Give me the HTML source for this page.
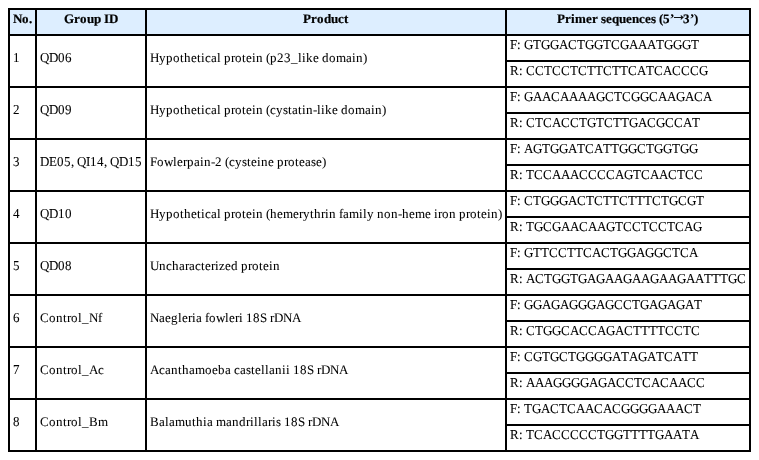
<!DOCTYPE html>
<html lang="en">
<head>
<meta charset="utf-8">
<title>Primer sequences</title>
<style>
html,body{margin:0;padding:0;background:#fff;}
body{width:759px;height:460px;overflow:hidden;position:relative;font-family:"Liberation Serif","Times New Roman",Times,serif;font-size:13px;line-height:15px;color:#000;}
table{position:absolute;left:8px;top:8px;border-collapse:collapse;border-spacing:0;table-layout:fixed;width:743px;}
th,td{border:2px solid #000;padding:0;margin:0;text-align:left;vertical-align:top;font-weight:normal;overflow:visible;}
th{background:#ddeeff;height:24px;}
td{height:24px;}
td[rowspan]{height:50px;}
svg{display:block;overflow:visible;}
text{font-family:"Liberation Serif","Times New Roman",Times,serif;font-size:13px;fill:#000;font-kerning:none;font-variant-ligatures:none;white-space:pre;text-rendering:geometricPrecision;stroke:#000;stroke-width:0.06px;stroke-linejoin:round;}
th text{font-weight:bold;stroke-width:0.2px;}
.arr{stroke-width:0.4px;font-weight:normal;font-size:15.5px;}
</style>
</head>
<body>
<table>
<colgroup><col style="width:27px"><col style="width:110px"><col style="width:360px"><col style="width:244px"></colgroup>
<thead>
<tr><th><svg width="25" height="24" viewBox="0 0 25 24"><text transform="translate(0 13)" x="3 12 19" y="0">No.</text></svg></th><th><svg width="108" height="24" viewBox="0 0 108 24"><text transform="translate(0 13)" x="27 37 43 50 57 64 67 72" y="0">Group ID</text></svg></th><th><svg width="358" height="24" viewBox="0 0 358 24"><text transform="translate(0 13)" x="156 164 170 177 184 191 197" y="0">Product</text></svg></th><th><svg width="242" height="24" viewBox="0 0 242 24"><text transform="translate(0 13)" y="0"><tspan x="50 58 64 68 79 85 91 94 99 105 112 119 125 132 138 144 149 152 156 163">Primer sequences (5’</tspan><tspan class="arr" x="164.04" y="-3">→</tspan><tspan x="176 183 187" y="0">3’)</tspan></text></svg></th></tr>
</thead>
<tbody>
<tr><td rowspan="2"><svg width="25" height="50" viewBox="0 0 25 50"><text transform="translate(0 26) scale(1 1.046)" x="3" y="0">1</text></svg></td><td rowspan="2"><svg width="108" height="50" viewBox="0 0 108 50"><text transform="translate(0 26) scale(1 1.046)" x="3 12 21 28" y="0">QD06</text></svg></td><td rowspan="2"><svg width="358" height="50" viewBox="0 0 358 50"><text transform="translate(0 26)" x="3 12 19 26 33 37 44 50 54 58 64 70 74 77 84 88 95 99 105 109 116 119 123 130 137 144 151 155 159 166 172 175 182 189 199 205 209 216" y="0">Hypothetical protein (p23_like domain)</text></svg></td><td><svg width="242" height="24" viewBox="0 0 242 24"><text transform="translate(0 13) scale(1 1.046)" x="3 10 14 17 26 34 43 52 61 70 78 87 96 104 113 122 131 140 149 157 166 175 184" y="0">F: GTGGACTGGTCGAAATGGGT</text></svg></td></tr>
<tr><td><svg width="242" height="24" viewBox="0 0 242 24"><text transform="translate(0 13) scale(1 1.046)" x="3 12 16 19 28 37 45 54 63 71 80 88 96 105 113 121 130 139 147 156 165 174 183 192" y="0">R: CCTCCTCTTCTTCATCACCCG</text></svg></td></tr>
<tr><td rowspan="2"><svg width="25" height="50" viewBox="0 0 25 50"><text transform="translate(0 26) scale(1 1.046)" x="3" y="0">2</text></svg></td><td rowspan="2"><svg width="108" height="50" viewBox="0 0 108 50"><text transform="translate(0 26) scale(1 1.046)" x="3 12 21 28" y="0">QD09</text></svg></td><td rowspan="2"><svg width="358" height="50" viewBox="0 0 358 50"><text transform="translate(0 26)" x="3 12 19 26 33 37 44 50 54 58 64 70 74 77 84 88 95 99 105 109 116 119 123 129 136 141 145 151 155 159 166 170 174 178 185 191 194 201 208 218 224 228 235" y="0">Hypothetical protein (cystatin-like domain)</text></svg></td><td><svg width="242" height="24" viewBox="0 0 242 24"><text transform="translate(0 13) scale(1 1.046)" x="3 10 14 17 26 35 44 53 62 71 80 89 98 107 115 124 133 142 151 160 169 178 187 196" y="0">F: GAACAAAAGCTCGGCAAGACA</text></svg></td></tr>
<tr><td><svg width="242" height="24" viewBox="0 0 242 24"><text transform="translate(0 13) scale(1 1.046)" x="3 12 16 19 28 36 45 54 63 72 80 89 97 106 114 122 131 140 149 158 167 176 185" y="0">R: CTCACCTGTCTTGACGCCAT</text></svg></td></tr>
<tr><td rowspan="2"><svg width="25" height="50" viewBox="0 0 25 50"><text transform="translate(0 26) scale(1 1.046)" x="3" y="0">3</text></svg></td><td rowspan="2"><svg width="108" height="50" viewBox="0 0 108 50"><text transform="translate(0 26) scale(1 1.046)" x="3 12 20 27 34 37 40 49 53 60 67 70 73 82 91 98" y="0">DE05, QI14, QD15</text></svg></td><td rowspan="2"><svg width="358" height="50" viewBox="0 0 358 50"><text transform="translate(0 26)" x="3 10 17 26 30 36 40 47 53 57 64 68 75 78 82 88 95 100 104 110 114 121 127 130 137 141 148 152 158 164 169 175" y="0">Fowlerpain-2 (cysteine protease)</text></svg></td><td><svg width="242" height="24" viewBox="0 0 242 24"><text transform="translate(0 13) scale(1 1.046)" x="3 10 14 17 26 35 43 52 61 70 78 87 96 104 112 121 130 139 147 156 165 173 182" y="0">F: AGTGGATCATTGGCTGGTGG</text></svg></td></tr>
<tr><td><svg width="242" height="24" viewBox="0 0 242 24"><text transform="translate(0 13) scale(1 1.046)" x="3 12 16 19 27 36 45 54 63 72 81 90 99 108 117 126 134 143 152 161 170 178 187" y="0">R: TCCAAACCCCAGTCAACTCC</text></svg></td></tr>
<tr><td rowspan="2"><svg width="25" height="50" viewBox="0 0 25 50"><text transform="translate(0 26) scale(1 1.046)" x="3" y="0">4</text></svg></td><td rowspan="2"><svg width="108" height="50" viewBox="0 0 108 50"><text transform="translate(0 26) scale(1 1.046)" x="3 12 21 28" y="0">QD10</text></svg></td><td rowspan="2"><svg width="358" height="50" viewBox="0 0 358 50"><text transform="translate(0 26)" x="3 12 19 26 33 37 44 50 54 58 64 70 74 77 84 88 95 99 105 109 116 119 123 130 136 146 152 156 163 167 174 178 182 189 192 196 202 212 216 220 227 230 237 244 251 255 262 268 278 284 287 291 295 302 309 312 319 323 330 334 340 344 351" y="0">Hypothetical protein (hemerythrin family non-heme iron protein)</text></svg></td><td><svg width="242" height="24" viewBox="0 0 242 24"><text transform="translate(0 13) scale(1 1.046)" x="3 10 14 17 26 34 43 52 61 70 79 87 96 104 112 121 129 137 145 154 162 171 180 189" y="0">F: CTGGGACTCTTCTTTCTGCGT</text></svg></td></tr>
<tr><td><svg width="242" height="24" viewBox="0 0 242 24"><text transform="translate(0 13) scale(1 1.046)" x="3 12 16 19 27 36 45 54 63 72 81 90 99 108 116 125 134 142 151 160 168 177 186" y="0">R: TGCGAACAAGTCCTCCTCAG</text></svg></td></tr>
<tr><td rowspan="2"><svg width="25" height="50" viewBox="0 0 25 50"><text transform="translate(0 26) scale(1 1.046)" x="3" y="0">5</text></svg></td><td rowspan="2"><svg width="108" height="50" viewBox="0 0 108 50"><text transform="translate(0 26) scale(1 1.046)" x="3 12 21 28" y="0">QD08</text></svg></td><td rowspan="2"><svg width="358" height="50" viewBox="0 0 358 50"><text transform="translate(0 26)" x="3 12 19 25 32 38 42 48 54 58 64 68 72 78 84 91 94 101 105 112 116 122 126" y="0">Uncharacterized protein</text></svg></td><td><svg width="242" height="24" viewBox="0 0 242 24"><text transform="translate(0 13) scale(1 1.046)" x="3 10 14 17 26 34 42 51 60 68 76 85 94 103 111 120 129 138 147 156 165 173 182" y="0">F: GTTCCTTCACTGGAGGCTCA</text></svg></td></tr>
<tr><td><svg width="242" height="24" viewBox="0 0 242 24"><text transform="translate(0 13) scale(1 1.046)" x="3 12 16 19 28 37 45 54 63 71 80 89 98 107 116 125 134 143 152 161 170 179 188 197 205 213 221 230" y="0">R: ACTGGTGAGAAGAAGAAGAATTTGC</text></svg></td></tr>
<tr><td rowspan="2"><svg width="25" height="50" viewBox="0 0 25 50"><text transform="translate(0 26) scale(1 1.046)" x="3" y="0">6</text></svg></td><td rowspan="2"><svg width="108" height="50" viewBox="0 0 108 50"><text transform="translate(0 26)" x="3 12 19 26 30 34 41 45 52 61" y="0">Control_Nf</text></svg></td><td rowspan="2"><svg width="358" height="50" viewBox="0 0 358 50"><text transform="translate(0 26)" x="3 12 18 24 31 35 41 45 49 55 58 62 69 78 82 88 92 96 99 106 113 120 123 127 136 145" y="0">Naegleria fowleri 18S rDNA</text></svg></td><td><svg width="242" height="24" viewBox="0 0 242 24"><text transform="translate(0 13) scale(1 1.046)" x="3 10 14 17 26 35 44 53 62 71 80 89 98 107 116 125 133 142 151 160 169 178 187" y="0">F: GGAGAGGGAGCCTGAGAGAT</text></svg></td></tr>
<tr><td><svg width="242" height="24" viewBox="0 0 242 24"><text transform="translate(0 13) scale(1 1.046)" x="3 12 16 19 28 36 45 54 63 72 81 90 99 108 117 126 134 142 150 158 167 176 184" y="0">R: CTGGCACCAGACTTTTCCTC</text></svg></td></tr>
<tr><td rowspan="2"><svg width="25" height="50" viewBox="0 0 25 50"><text transform="translate(0 26) scale(1 1.046)" x="3" y="0">7</text></svg></td><td rowspan="2"><svg width="108" height="50" viewBox="0 0 108 50"><text transform="translate(0 26)" x="3 12 19 26 30 34 41 45 52 61" y="0">Control_Ac</text></svg></td><td rowspan="2"><svg width="358" height="50" viewBox="0 0 358 50"><text transform="translate(0 26)" x="3 12 18 24 31 35 42 48 58 65 71 78 84 87 93 99 104 108 114 118 122 128 135 139 143 146 153 160 167 170 174 183 192" y="0">Acanthamoeba castellanii 18S rDNA</text></svg></td><td><svg width="242" height="24" viewBox="0 0 242 24"><text transform="translate(0 13) scale(1 1.046)" x="3 10 14 17 26 35 43 52 61 69 78 87 96 105 114 122 131 140 149 157 166 175 183" y="0">F: CGTGCTGGGGATAGATCATT</text></svg></td></tr>
<tr><td><svg width="242" height="24" viewBox="0 0 242 24"><text transform="translate(0 13) scale(1 1.046)" x="3 12 16 19 28 37 46 55 64 73 82 91 100 109 118 127 135 144 153 162 171 180 189" y="0">R: AAAGGGGAGACCTCACAACC</text></svg></td></tr>
<tr><td rowspan="2"><svg width="25" height="50" viewBox="0 0 25 50"><text transform="translate(0 26) scale(1 1.046)" x="3" y="0">8</text></svg></td><td rowspan="2"><svg width="108" height="50" viewBox="0 0 108 50"><text transform="translate(0 26)" x="3 12 19 26 30 34 41 45 52 61" y="0">Control_Bm</text></svg></td><td rowspan="2"><svg width="358" height="50" viewBox="0 0 358 50"><text transform="translate(0 26)" x="3 12 18 22 28 38 45 49 56 60 66 69 79 85 92 99 103 107 111 115 121 125 129 134 137 144 151 158 161 165 174 183" y="0">Balamuthia mandrillaris 18S rDNA</text></svg></td><td><svg width="242" height="24" viewBox="0 0 242 24"><text transform="translate(0 13) scale(1 1.046)" x="3 10 14 17 25 34 43 52 60 69 78 87 96 105 114 123 132 141 150 159 168 177 186" y="0">F: TGACTCAACACGGGGAAACT</text></svg></td></tr>
<tr><td><svg width="242" height="24" viewBox="0 0 242 24"><text transform="translate(0 13) scale(1 1.046)" x="3 12 16 19 27 36 45 54 63 72 81 90 98 107 116 124 132 140 148 157 166 175 183" y="0">R: TCACCCCCTGGTTTTGAATA</text></svg></td></tr>
</tbody>
</table>
</body>
</html>
